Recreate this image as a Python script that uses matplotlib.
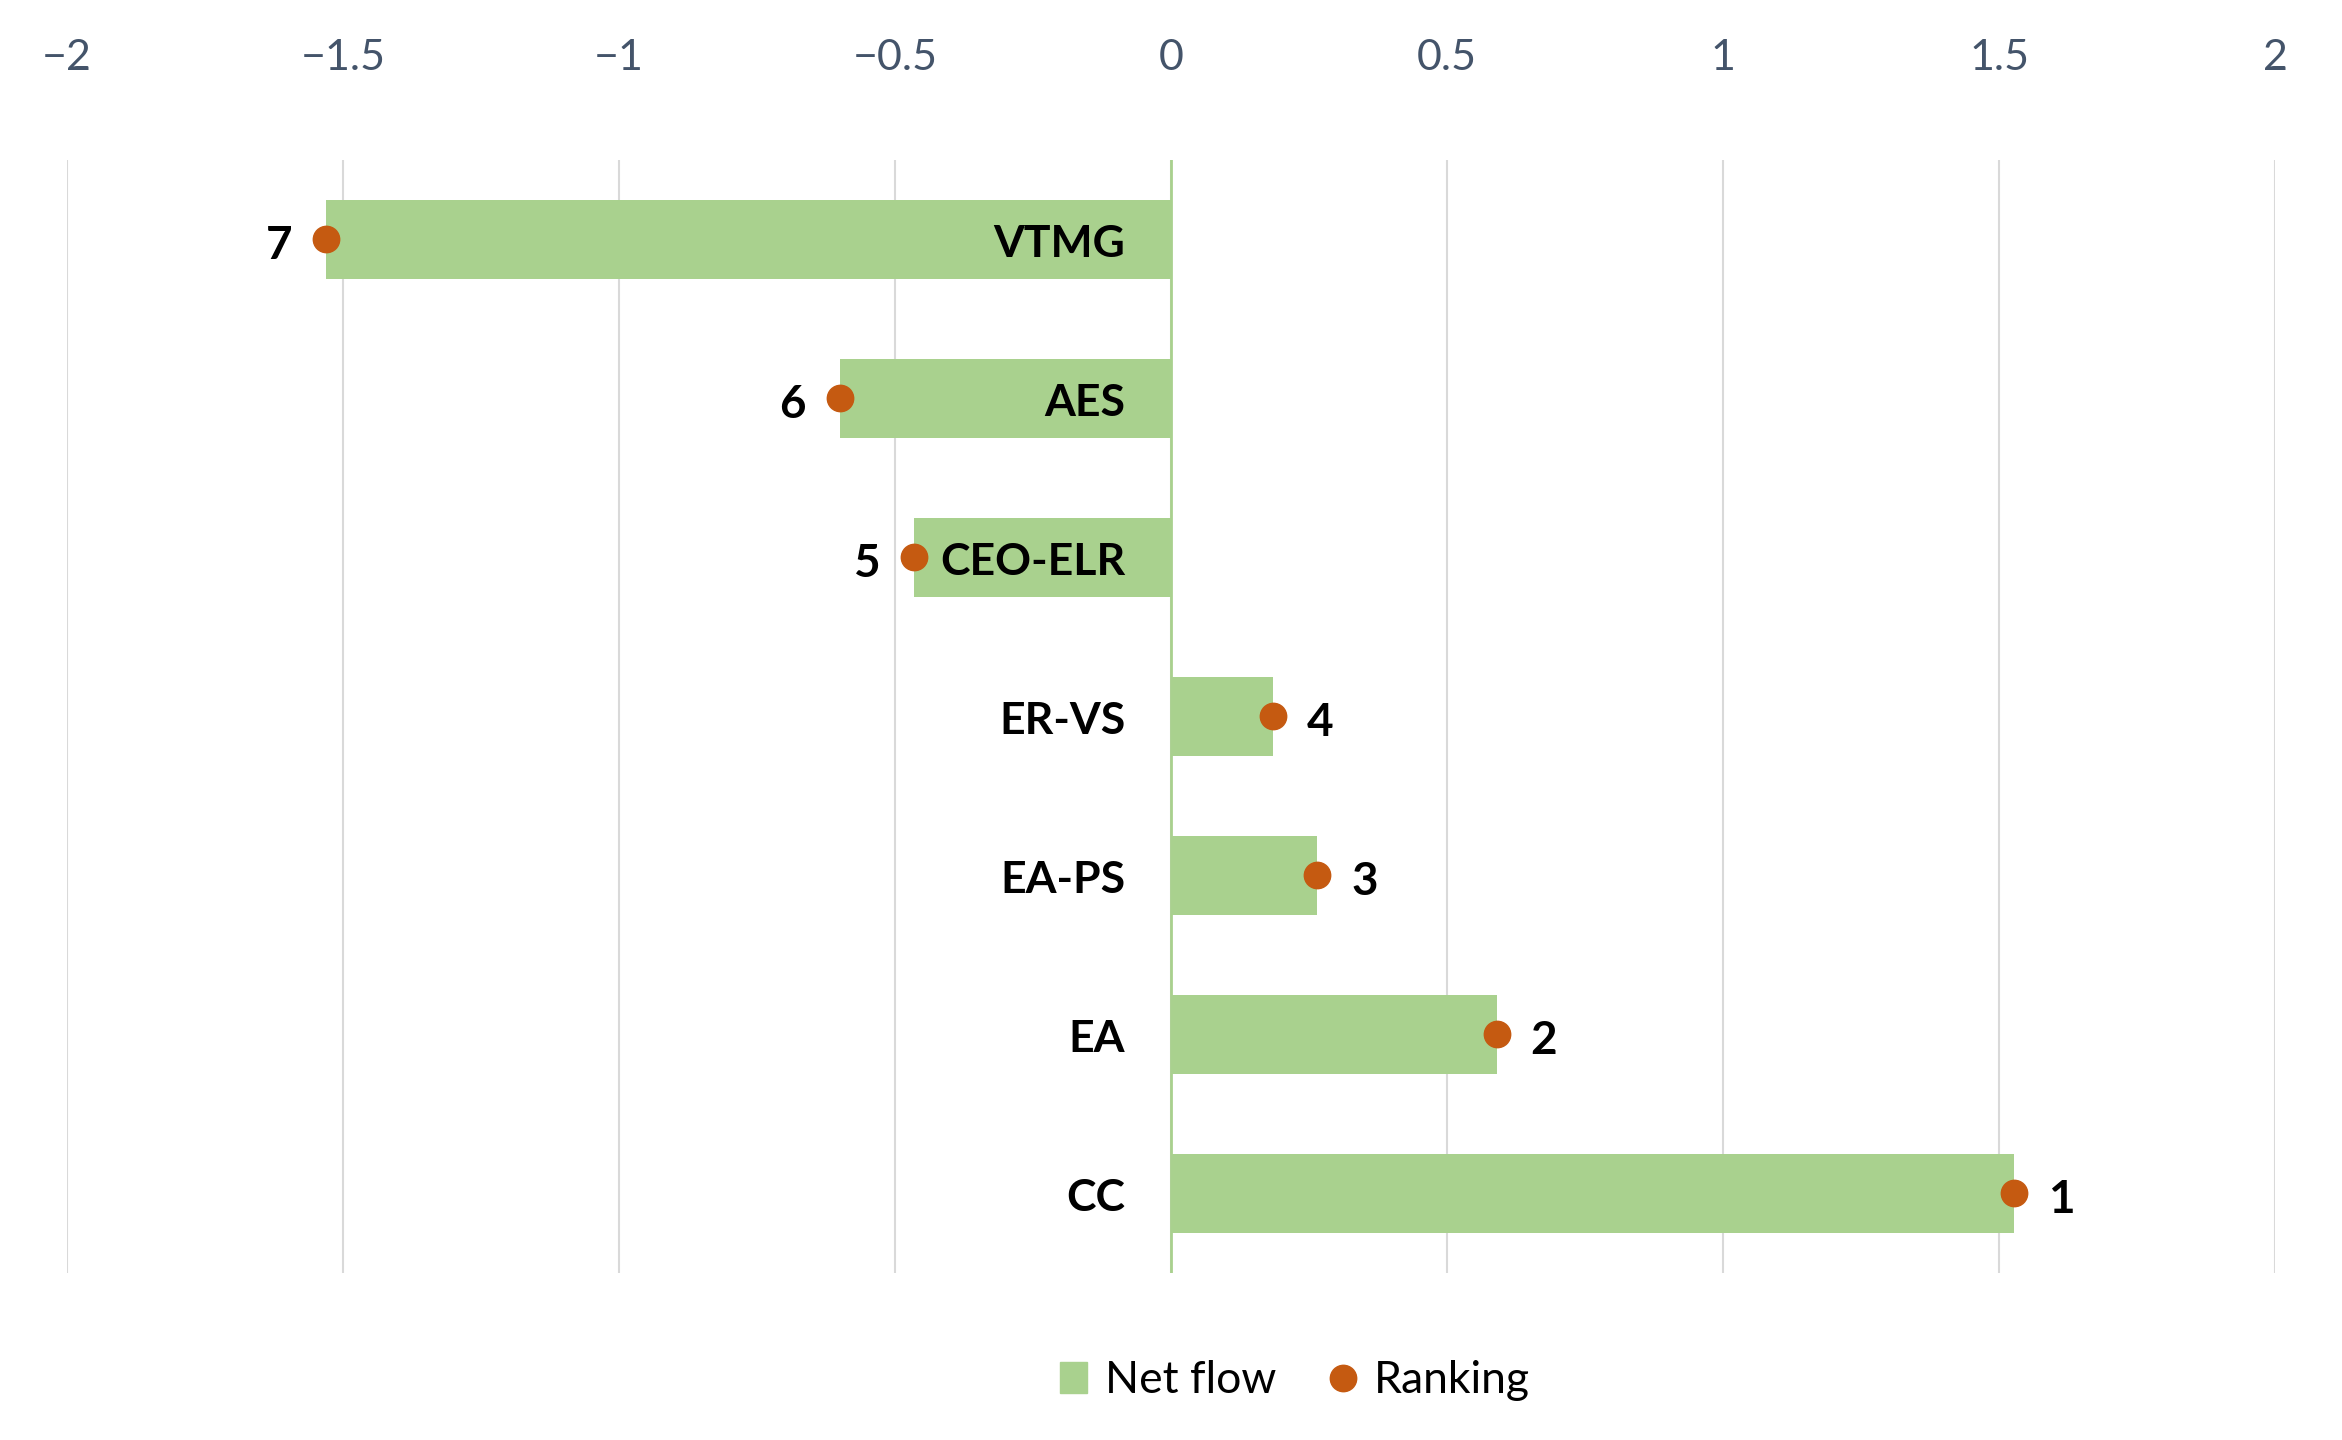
import matplotlib.pyplot as plt
from matplotlib.lines import Line2D
from matplotlib.patches import Patch

plt.rcParams['font.family'] = ['Lato', 'DejaVu Sans']

# data, top to bottom
groups = ['VTMG', 'AES', 'CEO-ELR', 'ER-VS', 'EA-PS', 'EA', 'CC']
net_flow = [-1.53, -0.60, -0.465, 0.185, 0.265, 0.59, 1.527]
ranking = [7, 6, 5, 4, 3, 2, 1]
xticks = [-2, -1.5, -1, -0.5, 0, 0.5, 1, 1.5, 2]

bar_col = '#A9D18E'
dot_col = '#C55A11'

fig = plt.figure(figsize=(23.42, 14.4), dpi=100)
ax = fig.add_axes([0.0286, 0.116, 0.9428, 0.7729])

y = list(range(len(groups)))
ax.barh(y, net_flow, height=0.5, color=bar_col, zorder=2)
ax.plot(net_flow, y, 'o', color=dot_col, markersize=19, zorder=3)

# zero line
ax.axvline(0, color=bar_col, lw=2, zorder=2)

for yi, v, r, g in zip(y, net_flow, ranking, groups):
    side = -1 if v < 0 else 1
    ax.annotate(str(r), (v, yi), xytext=(side * 34, -5), textcoords='offset points',
                ha='center', va='center', fontsize=33, fontweight='bold', color='black')
    ax.annotate(g, (0, yi), xytext=(-33, -3), textcoords='offset points',
                ha='right', va='center', fontsize=32, fontweight='bold', color='black')

ax.set_xlim(-2, 2)
ax.set_ylim(6.5, -0.5)
ax.set_xticks(xticks)
ax.set_xticklabels([('%g' % t).replace('-', '\u2212') for t in xticks])
ax.xaxis.tick_top()
ax.tick_params(axis='x', length=0, pad=60, labelsize=31, labelcolor='#44546A')
ax.set_yticks([])
ax.grid(axis='x', color='#D9D9D9', lw=1.5, zorder=0)
for s in ax.spines.values():
    s.set_visible(False)

handles = [Patch(color=bar_col, label='Net flow'),
           Line2D([], [], marker='o', color=dot_col, ls='', markersize=19, label='Ranking')]
fig.legend(handles=handles, loc='center', bbox_to_anchor=(0.553, 0.041), ncol=2,
           frameon=False, fontsize=32, handlelength=0.6, handletextpad=0.4, columnspacing=1.2)

fig.savefig('out.png', dpi=100)
